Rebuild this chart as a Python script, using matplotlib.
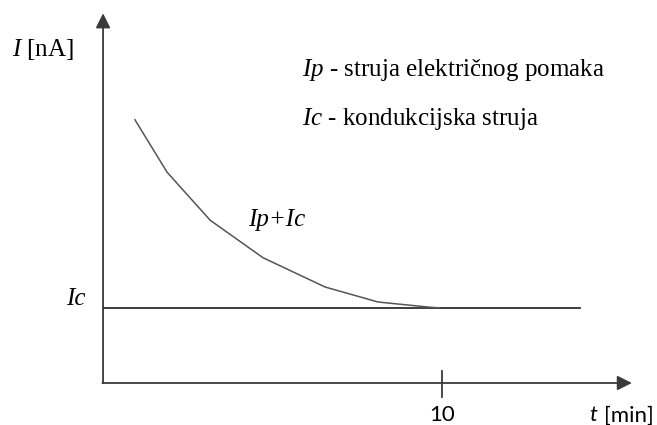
import numpy as np
import matplotlib
matplotlib.use("Agg")
import matplotlib.pyplot as plt

# curve Ip+Ic (t in min, I in units of Ic)
t_vals = [0.94, 1.89, 3.16, 4.72, 6.55, 8.11, 9.65, 9.94]
i_vals = [3.51, 2.81, 2.17, 1.67, 1.28, 1.08, 1.01, 1.00]
ic_level = 1.0
tick_t = 10
t_end = 14.07

serif = "Liberation Serif"
sans = "Lato"
plt.rcParams["mathtext.fontset"] = "custom"
plt.rcParams["mathtext.rm"] = serif
plt.rcParams["mathtext.it"] = serif + ":italic"

fig = plt.figure(figsize=(6.57, 4.25), dpi=100)
ax = fig.add_axes([0, 0, 1, 1])
ax.set_xlim(-3.04, 16.34)
ax.set_ylim(-0.56, 5.107)
ax.axis("off")

axcol = "#3a3a3a"

# axes with arrows
ax.annotate("", xy=(0, 4.93), xytext=(0, 0),
            arrowprops=dict(arrowstyle="-|>", color=axcol, lw=1.3,
                            mutation_scale=22, shrinkA=0, shrinkB=0))
ax.annotate("", xy=(15.6, 0), xytext=(-0.02, 0),
            arrowprops=dict(arrowstyle="-|>", color=axcol, lw=1.3,
                            mutation_scale=22, shrinkA=0, shrinkB=0))

# tick at 10 min
ax.plot([tick_t, tick_t], [0.16, -0.19], color=axcol, lw=1.3)

# Ic level and the decaying current
ax.plot([0, t_end], [ic_level, ic_level], color="#2e2e2e", lw=1.3)
ax.plot(t_vals, i_vals, color="#555555", lw=1.1)

# labels
ax.text(-2.7, 4.45, "$\\mathit{I}$ [nA]", fontsize=18, family=serif,
        va="center")
ax.text(-0.8, 1.12, "Ic", fontsize=18, family=serif, style="italic",
        ha="center", va="center")
ax.text(4.28, 2.17, "Ip+Ic", fontsize=18, family=serif, style="italic",
        va="center")
ax.text(5.87, 4.18, "$\\mathit{Ip}$ - struja električnog pomaka", fontsize=18,
        family=serif, va="center")
ax.text(5.87, 3.52, "$\\mathit{Ic}$ - kondukcijska struja", fontsize=18,
        family=serif, va="center")
ax.text(tick_t, -0.43, "10", fontsize=16, family=sans, ha="center", va="center")
ax.text(14.35, -0.43, "t", fontsize=16, family=sans, style="italic", va="center")
ax.text(14.77, -0.43, "[min]", fontsize=16, family=sans, va="center")

fig.savefig("out.png", dpi=100)
